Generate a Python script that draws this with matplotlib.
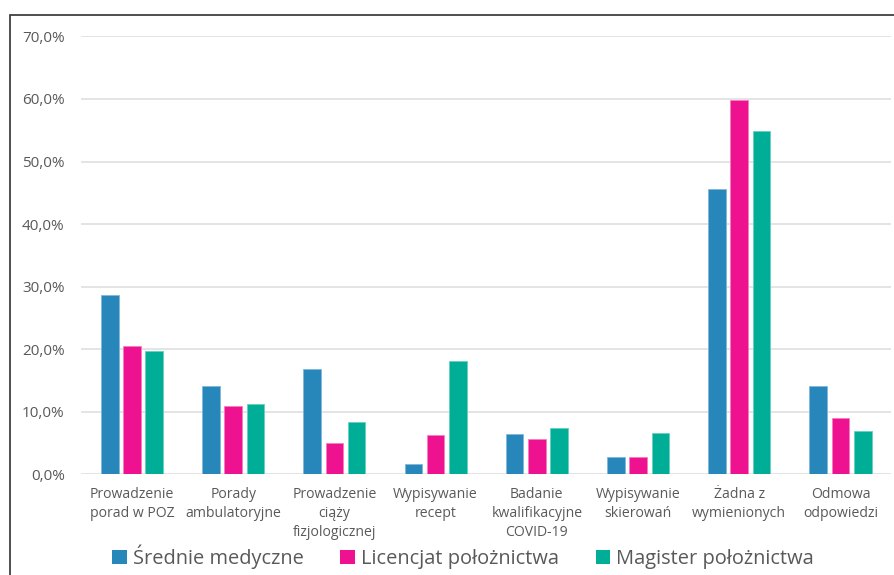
import matplotlib
matplotlib.use('Agg')
import matplotlib.pyplot as plt
import numpy as np
from matplotlib.patches import Rectangle, Patch
from matplotlib.ticker import FuncFormatter

plt.rcParams['font.family'] = ['Open Sans', 'DejaVu Sans']

categories = ['Prowadzenie\nporad w POZ', 'Porady\nambulatoryjne', 'Prowadzenie\nciąży\nfizjologicznej',
              'Wypisywanie\nrecept', 'Badanie\nkwalifikacyjne\nCOVID-19', 'Wypisywanie\nskierowań',
              'Żadna z\nwymienionych', 'Odmowa\nodpowiedzi']
series_names = ['Średnie medyczne', 'Licencjat położnictwa', 'Magister położnictwa']
srednie = [28.7, 14.1, 16.8, 1.7, 6.5, 2.8, 45.6, 14.2]
licencjat = [20.6, 10.9, 5.0, 6.3, 5.6, 2.8, 59.9, 9.1]
magister = [19.7, 11.3, 8.4, 18.2, 7.4, 6.7, 54.8, 6.9]
colors = ['#2787BB', '#EE1190', '#00AE98']
edge_colors = ['#7FB8DA', '#F57DBE', '#66CFC0']
text_color = '#595959'

fig = plt.figure(figsize=(8.94, 5.75), dpi=100)
ax = fig.add_axes([0.091, 0.1748, 0.9058, 0.762])

x = np.arange(len(categories))
width = 0.174
step = 0.22
for i, vals in enumerate([srednie, licencjat, magister]):
    ax.bar(x + (i - 1) * step, vals, width, color=colors[i], edgecolor=edge_colors[i],
           linewidth=0.6, zorder=3)

ax.set_xlim(-0.5, len(categories) - 0.5)
ax.set_ylim(0, 70)
ax.set_yticks(np.arange(0, 71, 10))
ax.yaxis.set_major_formatter(FuncFormatter(lambda v, p: f'{v:.1f}%'.replace('.', ',')))
ax.set_xticks(x)
ax.set_xticklabels(categories, fontsize=10.1, color=text_color, linespacing=1.35, va='top')
ax.tick_params(axis='y', length=0, pad=12, labelsize=11, labelcolor=text_color)
ax.tick_params(axis='x', length=0, pad=9)
ax.grid(axis='y', color='#DDDDDD', linewidth=1.1, zorder=0)
for s in ax.spines.values():
    s.set_visible(False)

handles = [Patch(facecolor=c, edgecolor='none') for c in colors]
leg = fig.legend(handles, series_names, loc='center', bbox_to_anchor=(0.518, 1 - 557 / 575),
                 ncol=3, frameon=False, fontsize=14.4, handlelength=0.72, handleheight=0.72,
                 handletextpad=0.3, columnspacing=1.85, borderaxespad=0)
for t in leg.get_texts():
    t.set_color(text_color)

# outer frame
fig.patches.append(Rectangle((10 / 894, -0.1), 1.2, 1 - 15 / 575 + 0.1, transform=fig.transFigure,
                             fill=False, edgecolor='#404040', linewidth=1.3))

fig.savefig('out.png', dpi=100)
